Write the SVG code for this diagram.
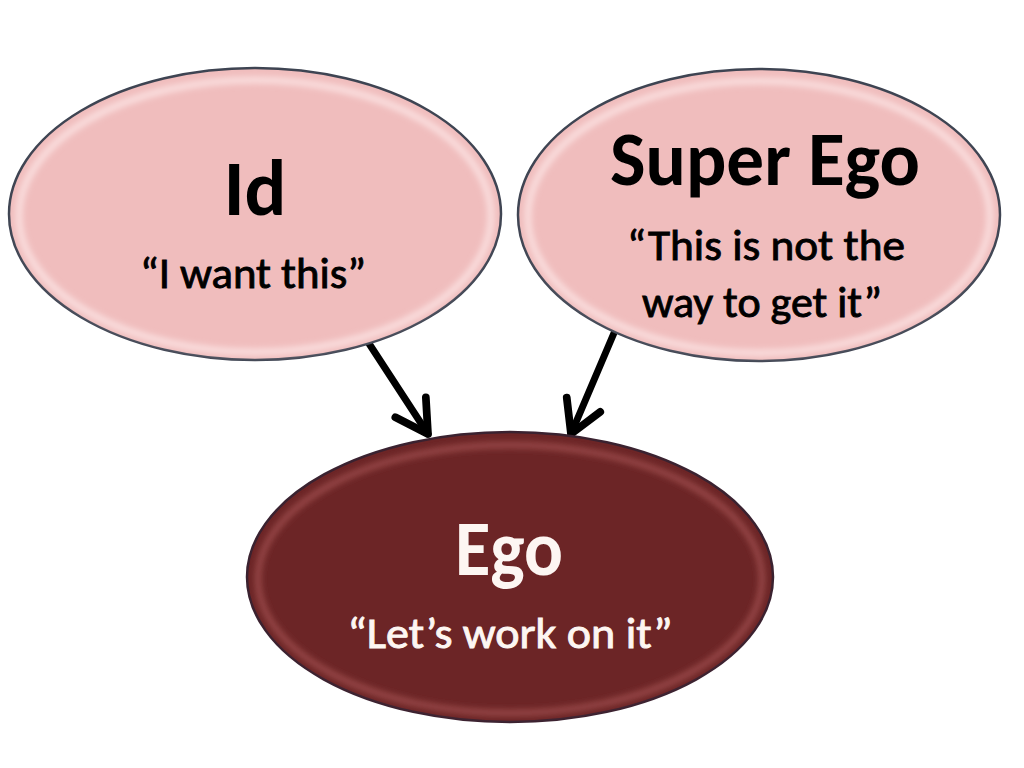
<svg xmlns="http://www.w3.org/2000/svg" width="1024" height="768" viewBox="0 0 1024 768">
  <defs>
    <filter id="soft" x="-10%" y="-10%" width="120%" height="120%">
      <feGaussianBlur stdDeviation="3"/>
    </filter>
    <marker id="chev" viewBox="0 0 20 20" refX="17" refY="10" markerWidth="6.5" markerHeight="6.5" markerUnits="strokeWidth" orient="auto">
      <path d="M3,2 L17,10 L3,18" fill="none" stroke="#000" stroke-width="3.4" stroke-linecap="round" stroke-linejoin="round"/>
    </marker>
  </defs>
  <style>
    .pink { fill: #f0bdbd; stroke: #3e4452; stroke-width: 2.5; }
    .maroon { fill: #6c2526; stroke: #3a2230; stroke-width: 2.5; }
    .hl-pink { fill: none; stroke: #fbe2e2; stroke-width: 6; filter: url(#soft); }
    .hl-maroon { fill: none; stroke: #9a4a4a; stroke-width: 6; filter: url(#soft); }
    .title { font-family: Carlito, "Open Sans", "Liberation Sans", sans-serif; font-weight: bold; text-anchor: middle; }
    .quote { font-family: Carlito, "Open Sans", "Liberation Sans", sans-serif; font-weight: normal; text-anchor: middle; stroke-width: 0.9; }
    .dark { fill: #000; stroke: #000; }
    .title.dark, .title.light { stroke: none; }
    .light { fill: #fdf6f2; stroke: #fdf6f2; }
    .arrow { stroke: #000; stroke-width: 7; fill: none; stroke-linecap: round; marker-end: url(#chev); }
  </style>
  <rect width="1024" height="768" fill="#fff"/>

  <g id="connectors">
    <line class="arrow" x1="368" y1="342" x2="428" y2="434"/>
    <line class="arrow" x1="614" y1="333" x2="571" y2="434"/>
  </g>

  <g id="id-node">
    <ellipse class="pink" cx="255" cy="214" rx="246" ry="146"/>
    <ellipse class="hl-pink" cx="255" cy="216" rx="236" ry="136"/>
    <text class="title dark" x="255" y="215" font-size="78">Id</text>
    <text class="quote dark" x="253" y="288" font-size="44" textLength="226" lengthAdjust="spacingAndGlyphs">“I want this”</text>
  </g>

  <g id="superego-node">
    <ellipse class="pink" cx="759" cy="215" rx="241" ry="146"/>
    <ellipse class="hl-pink" cx="759" cy="217" rx="231" ry="136"/>
    <text class="title dark" x="765" y="185" font-size="76" textLength="310" lengthAdjust="spacingAndGlyphs">Super Ego</text>
    <text class="quote dark" x="766" y="260" font-size="44" textLength="278" lengthAdjust="spacingAndGlyphs">“This is not the</text>
    <text class="quote dark" x="762" y="317" font-size="44" textLength="240" lengthAdjust="spacingAndGlyphs">way to get it”</text>
  </g>

  <g id="ego-node">
    <ellipse class="maroon" cx="510" cy="577" rx="263" ry="145"/>
    <ellipse class="hl-maroon" cx="510" cy="579" rx="252" ry="134"/>
    <text class="title light" x="509" y="575" font-size="78" textLength="108" lengthAdjust="spacingAndGlyphs">Ego</text>
    <text class="quote light" x="510" y="648" font-size="44" textLength="325" lengthAdjust="spacingAndGlyphs">“Let’s work on it”</text>
  </g>
</svg>
